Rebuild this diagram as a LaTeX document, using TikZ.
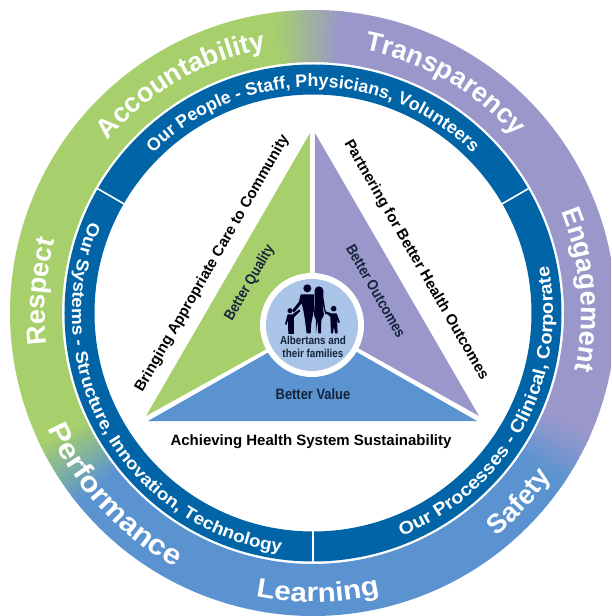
\documentclass[tikz,border=0pt]{standalone}
\usepackage{fontspec}
\setmainfont{Liberation Sans}
\newfontfamily\condfont[FakeStretch=0.86]{Liberation Sans}
\newfontfamily\widefont[FakeStretch=1.1]{Liberation Sans}
\usetikzlibrary{decorations.text}
\definecolor{gr}{HTML}{A7D06C}
\definecolor{pu}{HTML}{9A98CB}
\definecolor{bl}{HTML}{5B93D0}
\definecolor{dk}{HTML}{0064A6}
\definecolor{lb}{HTML}{A9C4E6}
\definecolor{tx}{HTML}{15233A}
\newcommand{\bandseg}[3]{%
  \fill[#3] (#1:303) arc[start angle=#1,end angle=#2,radius=303] -- (#2:251) arc[start angle=#2,end angle=#1,radius=251] -- cycle;}
\newcommand{\arctext}[5]{% radius, start, end, format, text
  \path[decorate,decoration={text along path,text align=center,text={|#4|#5}}]
    (#2:#1) arc[start angle=#2,end angle=#3,radius=#1];}
\newcommand{\outerfmt}{\color{white}\bfseries\fontsize{27}{27}\selectfont}
\newcommand{\outerwide}{\color{white}\widefont\bfseries\fontsize{27}{27}\selectfont}
\newcommand{\perffmt}{\color{white}\widefont\bfseries\fontsize{28.5}{28.5}\selectfont}
\newcommand{\innerfmt}{\color{white}\bfseries\fontsize{17.8}{18}\selectfont}
\newcommand{\innerwide}{\color{white}\widefont\bfseries\fontsize{17.2}{18}\selectfont}
\newcommand{\procfmt}{\color{white}\widefont\bfseries\fontsize{18}{18}\selectfont}
\tikzset{
  labelb/.style={text=black,font=\bfseries\fontsize{15}{15}\selectfont,inner sep=0pt},
  labeld/.style={text=tx,font=\condfont\bfseries\fontsize{15}{15}\selectfont,inner sep=0pt},
  sil/.style={fill=black!85!blue,draw=none}
}
\begin{document}
\begin{tikzpicture}[x=1pt,y=1pt]
\useasboundingbox (-313,-303) rectangle (298,313);
\begin{scope}
\clip (-313,-303) rectangle (298,313);
% outer band
\bandseg{96}{206}{gr}
\bandseg{217}{326}{bl}
\bandseg{-26}{85}{pu}
\foreach \a in {84,...,96}{
  \pgfmathtruncatemacro{\p}{(\a-84)*100/13}
  \pgfmathsetmacro{\b}{\a+1.4}
  \bandseg{\a}{\b}{gr!\p!pu}
}
\foreach \a in {205,...,217}{
  \pgfmathtruncatemacro{\p}{(\a-205)*100/13}
  \pgfmathsetmacro{\b}{\a+1.4}
  \bandseg{\a}{\b}{bl!\p!gr}
}
\foreach \a in {-35,...,-25}{
  \pgfmathtruncatemacro{\p}{(\a+35)*100/11}
  \pgfmathsetmacro{\b}{\a+1.4}
  \bandseg{\a}{\b}{pu!\p!bl}
}
\end{scope}
% inner ring
\fill[dk,even odd rule] (0,0) circle[radius=248.5] (0,0) circle[radius=218.5];
\draw[white,line width=1.6pt] (30:218) -- (30:249);
\draw[white,line width=1.6pt] (150:218) -- (150:249);
\draw[white,line width=1.6pt] (270:218) -- (270:249);
% triangles
\fill[gr] (-3,180) -- (-167,-103) -- (-48,-37) -- (-3,-12) -- cycle;
\fill[pu] (2,180) -- (166,-103) -- (45,-35) -- (2,-12) -- cycle;
\fill[bl] (-165,-108) -- (164,-108) -- (0,-14) -- cycle;
\fill[white] (-1,-12) circle[radius=52];
\fill[lb] (-1,-12) circle[radius=46];
% family
\begin{scope}[shift={(-93,53)},x=.3333pt,y=-.3333pt]
  \fill[sil] (262,85) circle[radius=12];
  \fill[sil] (242,103) -- (282,103) -- (282,150) -- (274,190) -- (272,220) -- (260,220) -- (255,180) -- (250,150) -- (245,130) -- (222,158) -- (216,152) -- (237,125) -- cycle;
  \fill[sil] (297,92) circle[radius=13];
  \fill[sil] (284,92) -- (310,92) -- (310,110) -- (316,150) -- (322,160) -- (316,163) -- (306,125) -- (312,165) -- (304,180) -- (303,220) -- (295,220) -- (292,180) -- (288,220) -- (288,180) -- (282,165) -- (284,130) -- cycle;
  \fill[sil] (210,152) circle[radius=7.5];
  \fill[sil] (203,163) -- (218,163) -- (238,148) -- (241,153) -- (222,172) -- (222,222) -- (205,222) -- (204,182) -- (199,195) -- (195,192) -- cycle;
  \fill[sil] (341,146) circle[radius=8.5];
  \fill[sil] (320,155) -- (334,160) -- (350,160) -- (360,187) -- (355,189) -- (351,178) -- (353,220) -- (345,220) -- (342,200) -- (339,220) -- (333,220) -- (331,170) -- (318,160) -- cycle;
\end{scope}
% labels
\node[labeld,rotate=60] (bq) at (-63,30) {Better Quality};
\node[labeld,rotate=-60] (bo) at (63,22) {Better Outcomes};
\node[labeld] (bv) at (0,-81) {Better Value};
\node[labelb] (ahs) at (-2,-129) {Achieving Health System Sustainability};
\node[labelb,rotate=60] (bac) at (-100.5,49.5) {Bringing Appropriate Care to Community};
\node[labelb,rotate=-60] (pbh) at (103,53) {Partnering for Better Health Outcomes};
\node[text=tx,font=\condfont\bfseries\fontsize{11.5}{13}\selectfont,align=center,inner sep=0pt] (abf) at (0,-34) {Albertans and\\their families};
% inner ring text
\arctext{226}{170}{10}{\innerfmt}{Our People - Staff{,} Physicians{,} Volunteers}
\arctext{241}{130}{290}{\innerwide}{Our Systems - Structure{,} Innovation{,} Technology}
\arctext{240}{-108.5}{51.5}{\procfmt}{Our Processes - Clinical{,} Corporate}
% outer ring text
\arctext{268}{170}{70}{\outerfmt}{Accountability}
\arctext{268}{110}{10}{\outerfmt}{Transparency}
\arctext{268}{50}{-40}{\outerfmt}{Engagement}
\arctext{268}{205.5}{145.5}{\outerfmt}{Respect}
\arctext{289}{177.5}{267.5}{\perffmt}{Performance}
\arctext{289}{241}{301}{\outerwide}{Learning}
\arctext{289}{290}{345}{\outerfmt}{Safety}
\end{tikzpicture}
\end{document}
